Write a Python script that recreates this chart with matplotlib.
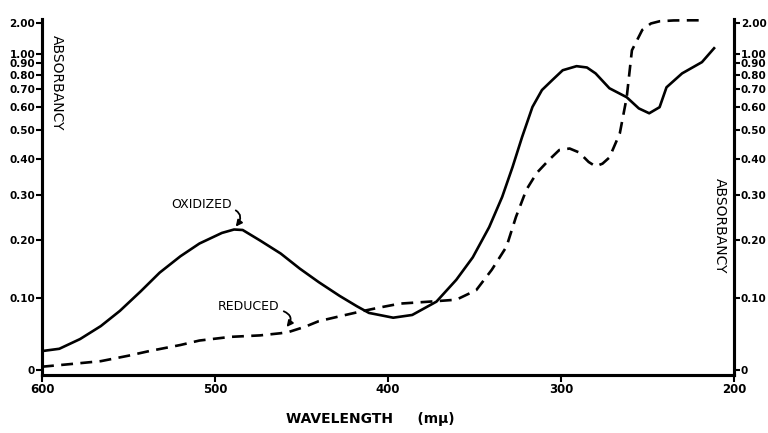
import numpy as np
import matplotlib.pyplot as plt

# oxidized form (solid) -- wavelength in m-mu, absorbancy
wl_oxidized = [600, 590, 578, 566, 555, 543, 532, 520, 509, 496, 489, 484,
               474, 462, 451, 440, 428, 418, 411, 405, 397, 386, 372, 360.5,
               351, 341.5, 334, 328, 322.5, 316.5, 311, 305, 299, 291,
               285, 280, 272, 262, 255, 249, 243, 239, 230, 218.5, 211.5]
abs_oxidized = [0.024, 0.027, 0.040, 0.058, 0.080, 0.110, 0.141, 0.170, 0.194,
                0.215, 0.222, 0.221, 0.200, 0.175, 0.148, 0.125, 0.103, 0.087,
                0.077, 0.074, 0.070, 0.074, 0.094, 0.129, 0.168, 0.227, 0.295,
                0.375, 0.473, 0.601, 0.694, 0.76, 0.836, 0.872,
                0.86, 0.81, 0.705, 0.652, 0.594, 0.571, 0.60, 0.711, 0.81,
                0.911, 1.08]

# reduced form (dashed)
wl_reduced = [600, 585, 566, 550, 538, 520, 509, 491, 474, 462, 457, 448, 440,
              428, 416, 405, 393, 376, 360.5, 349, 340, 331.5, 326, 320, 314,
              307, 301, 295, 289.5, 284, 280, 276, 272, 266, 262, 259, 253,
              248, 243, 235, 225, 217]
abs_reduced = [0.004, 0.007, 0.011, 0.018, 0.024, 0.032, 0.038, 0.043, 0.045,
               0.048, 0.050, 0.057, 0.065, 0.072, 0.079, 0.085, 0.091, 0.094,
               0.097, 0.112, 0.146, 0.188, 0.249, 0.313, 0.358, 0.396, 0.428,
               0.433, 0.42, 0.39, 0.377, 0.385, 0.404, 0.487, 0.652, 1.05,
               1.51, 1.9, 2.2, 2.4, 2.45, 2.45]

x_ticks = [600, 500, 400, 300, 200]
y_ticks = [0, 0.1, 0.2, 0.3, 0.4, 0.5, 0.6, 0.7, 0.8, 0.9, 1.0, 2.0]
y_labels = ['0', '0.10', '0.20', '0.30', '0.40', '0.50', '0.60', '0.70',
            '0.80', '0.90', '1.00', '2.00']


# chart paper is ruled linear in (1 - transmittance)
def fwd(a):
    a = np.asarray(a, dtype=float)
    return 1 - 10.0 ** (-a)


def inv(u):
    u = np.clip(np.asarray(u, dtype=float), None, 1 - 1e-12)
    return -np.log10(1 - u)


fig = plt.figure(figsize=(7.68, 4.33), dpi=100)
ax = fig.add_axes([0.0547, 0.134, 0.901, 0.822])

ax.plot(wl_oxidized, abs_oxidized, color='black', lw=1.9)
ax.plot(wl_reduced, abs_reduced, color='black', lw=1.9, dashes=(4.5, 2.8))

ax.set_yscale('function', functions=(fwd, inv))
ax.set_xlim(600, 200)
ax.set_ylim(-0.0062, 6)
ax.set_xticks(x_ticks, [str(t) for t in x_ticks], fontweight='bold', fontsize=8.5)
ax.set_yticks(y_ticks, y_labels, fontweight='bold', fontsize=7.5)
ax.yaxis.set_minor_locator(plt.NullLocator())
ax.tick_params(axis='x', direction='out', length=5, width=1.5, pad=1)
ax.tick_params(axis='y', direction='out', length=4, width=1.5, pad=1)

ax2 = ax.twinx()
ax2.set_yscale('function', functions=(fwd, inv))
ax2.set_ylim(ax.get_ylim())
ax2.set_yticks(y_ticks, y_labels, fontweight='bold', fontsize=7.5)
ax2.yaxis.set_minor_locator(plt.NullLocator())
ax2.tick_params(axis='y', direction='out', length=4, width=1.5, pad=1)

for a in (ax, ax2):
    a.spines['top'].set_visible(False)
    for s in ('left', 'right', 'bottom'):
        a.spines[s].set_linewidth(2.2)

ax.text(0.0217, 0.82, 'ABSORBANCY', rotation=270, transform=ax.transAxes,
        ha='center', va='center', fontsize=10)
ax.text(0.98, 0.42, 'ABSORBANCY', rotation=270, transform=ax.transAxes,
        ha='center', va='center', fontsize=10)

arrow = dict(arrowstyle='-|>', connectionstyle='angle3,angleA=0,angleB=52',
             color='black', lw=1.3, shrinkA=1, shrinkB=0, mutation_scale=9)
ax.annotate('OXIDIZED', xy=(488, 0.228), xytext=(490.3, 0.276),
            ha='right', va='center', fontsize=9, arrowprops=arrow)
ax.annotate('REDUCED', xy=(458.6, 0.0567), xytext=(462.6, 0.086),
            ha='right', va='center', fontsize=9, arrowprops=arrow)

ax.set_xlabel('WAVELENGTH     (mμ)', fontweight='bold', fontsize=10)
ax.xaxis.set_label_coords(0.474, -0.105)

fig.savefig('out.png', dpi=100)
